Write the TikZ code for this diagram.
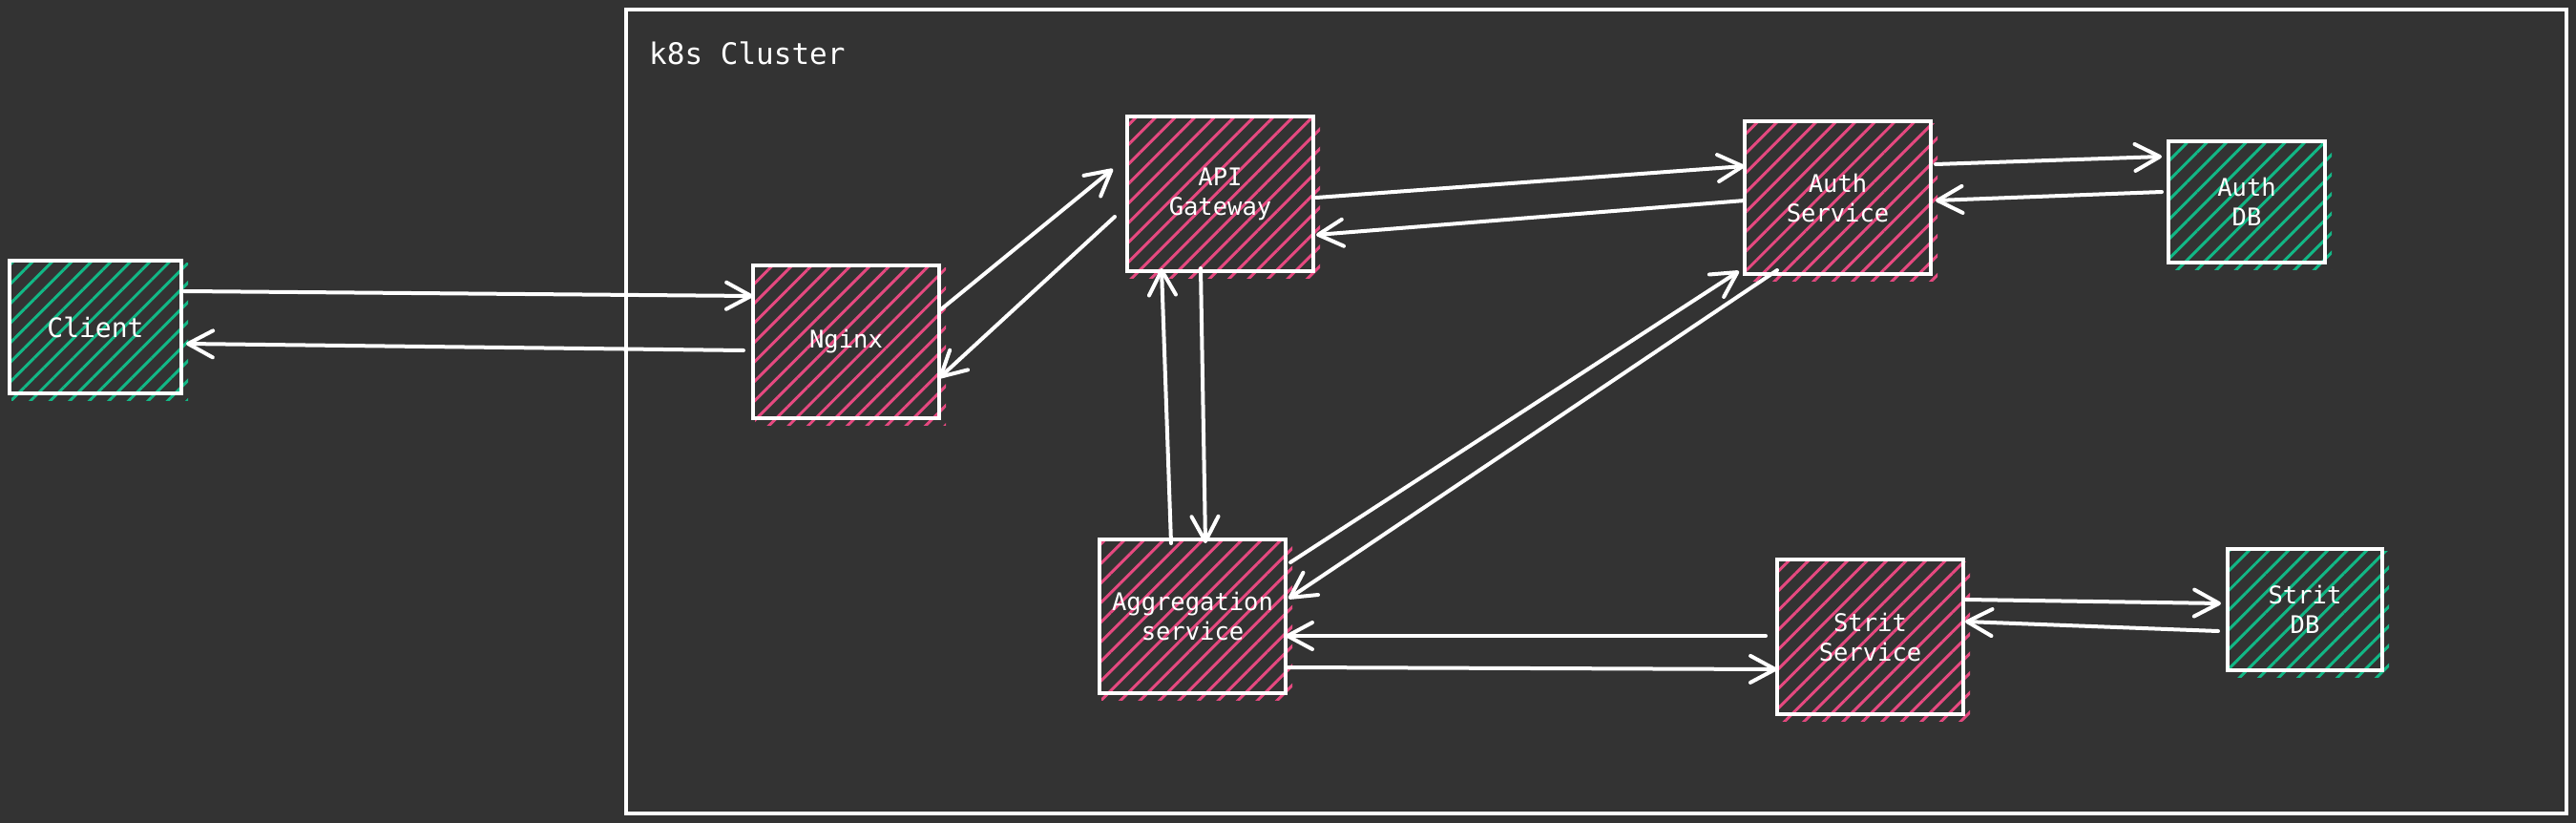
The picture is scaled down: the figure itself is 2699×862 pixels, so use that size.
\documentclass[tikz,border=0pt]{standalone}
\usepackage{fontspec}
\setmonofont{DejaVu Sans Mono}
\usetikzlibrary{arrows.meta,patterns.meta}
\definecolor{bg}{HTML}{333333}
\definecolor{pinkh}{HTML}{E64980}
\definecolor{greenh}{HTML}{12B886}
\pgfdeclarelayer{backdrop}
\pgfdeclarelayer{hatch}
\pgfsetlayers{backdrop,hatch,main}
\newcommand\hatchfill[2]{\fill[pattern={Lines[angle=45,distance=14.5pt,line width=3pt]},pattern color=#2] ([shift={(2,2)}]#1.north west) rectangle ([shift={(7,7)}]#1.south east);}
\tikzset{
  box/.style={draw=white, line width=4.5pt, text=white, align=center, inner sep=0pt, outer sep=0pt,
    font=\ttfamily\fontsize{25.5}{31}\selectfont},
  arr/.style={draw=white, line width=4pt, line cap=round,
    -{Straight Barb[length=26pt,width=28pt,line cap=round,line join=round]}},
}
\begin{document}
\begin{tikzpicture}[x=1pt,y=-1pt]
\useasboundingbox (0,0) rectangle (2699,862);
\begin{pgfonlayer}{backdrop}
\fill[bg] (0,0) rectangle (2699,862);
\end{pgfonlayer}
% cluster
\node[draw=white, line width=3.5pt, minimum width=2033pt, minimum height=842pt, inner sep=0pt, outer sep=0pt] (cluster) at (1672.5,431) {};
\node[text=white, anchor=base west, inner sep=0pt, font=\ttfamily\fontsize{31}{38}\selectfont] (clabel) at (680,67) {k8s Cluster};
% nodes
\node[box, minimum width=180pt, minimum height=139pt, font=\ttfamily\fontsize{28}{34}\selectfont] (client) at (100,342.5) {Client};
\node[box, minimum width=195pt, minimum height=160pt] (nginx) at (886.5,358) {Nginx};
\node[box, minimum width=195pt, minimum height=162pt] (api) at (1278.5,203) {API\\Gateway};
\node[box, minimum width=195pt, minimum height=160pt] (auth) at (1925.5,207) {Auth\\Service};
\node[box, minimum width=164pt, minimum height=127pt] (authdb) at (2354,211.5) {Auth\\DB};
\node[box, minimum width=195pt, minimum height=161pt] (agg) at (1249.5,645.5) {Aggregation\\service};
\node[box, minimum width=195pt, minimum height=162pt] (strit) at (1959.5,667) {Strit\\Service};
\node[box, minimum width=162pt, minimum height=127pt] (stritdb) at (2415,638.5) {Strit\\DB};
\begin{pgfonlayer}{hatch}
\hatchfill{client}{greenh}
\hatchfill{nginx}{pinkh}
\hatchfill{api}{pinkh}
\hatchfill{auth}{pinkh}
\hatchfill{authdb}{greenh}
\hatchfill{agg}{pinkh}
\hatchfill{strit}{pinkh}
\hatchfill{stritdb}{greenh}
\end{pgfonlayer}
% connectors
\draw[arr] ([xshift=3pt]client.east |- 0,305) -- (nginx.west |- 0,310);
\draw[arr] ([xshift=-10pt]nginx.west |- 0,367) -- ([xshift=5pt]client.east |- 0,360);
\draw[arr] ([xshift=2pt]nginx.east |- 0,324) -- ([xshift=-15pt]api.west |- 0,177);
\draw[arr] ([xshift=-13pt]api.west |- 0,227) -- (nginx.east |- 0,396);
\draw[arr] ([xshift=3pt]api.east |- 0,207) -- (auth.west |- 0,174);
\draw[arr] (auth.west |- 0,210) -- ([xshift=3pt]api.east |- 0,246);
\draw[arr] ([xshift=5pt]auth.east |- 0,172) -- ([xshift=-7pt]authdb.west |- 0,164);
\draw[arr] ([xshift=-7pt]authdb.west |- 0,201) -- ([xshift=5pt]auth.east |- 0,210);
\draw[arr] ([yshift=-4pt]agg.north -| 1227,0) -- ([yshift=3pt]api.south -| 1217,0);
\draw[arr] ([yshift=3pt]api.south -| 1258,0) -- ([yshift=-4pt]agg.north -| 1263,0);
\draw[arr] ([xshift=5pt]agg.east |- 0,589) -- ([xshift=-6pt]auth.west |- 0,284);
\draw[arr] ([yshift=4pt]auth.south -| 1862,0) -- ([xshift=3pt]agg.east |- 0,627);
\draw[arr] ([xshift=-12pt]strit.west |- 0,666) -- (agg.east |- 0,666);
\draw[arr] ([xshift=2pt]agg.east |- 0,699) -- (strit.west |- 0,701);
\draw[arr] ([xshift=3pt]strit.east |- 0,628) -- ([xshift=-7pt]stritdb.west |- 0,632);
\draw[arr] ([xshift=-10pt]stritdb.west |- 0,661) -- ([xshift=2pt]strit.east |- 0,651);
\end{tikzpicture}
\end{document}
